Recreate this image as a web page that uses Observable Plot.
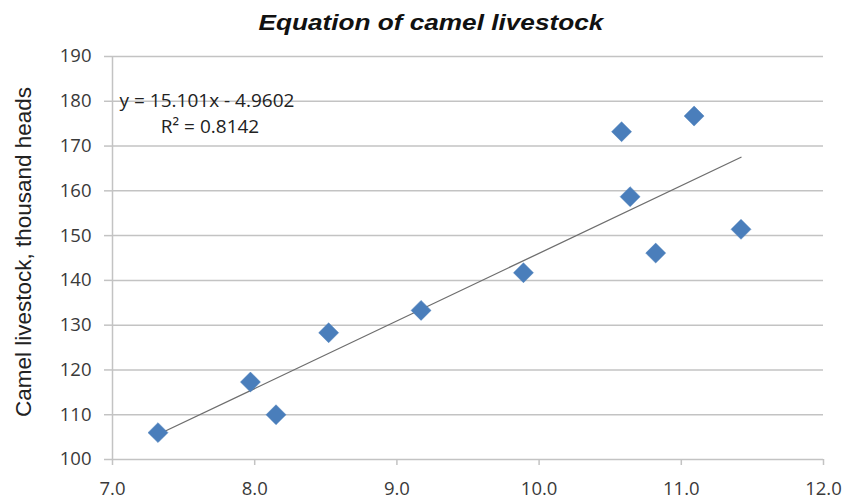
<!DOCTYPE html>
<html>
<head>
<meta charset="utf-8">
<script src="https://cdn.jsdelivr.net/npm/d3@7"></script>
<script src="https://cdn.jsdelivr.net/npm/@observablehq/plot@0.6"></script>
<style>
  html, body { margin: 0; padding: 0; background: #fff; }
  #title { height: 40px; padding-top: 12px; box-sizing: border-box; width: 846px; text-align: center; padding-left: 16px; }
  #title span { display: inline-block; font: bold italic 22px/22px "Liberation Sans", Arial, sans-serif; color: #111; transform: scaleX(1.19); transform-origin: center; }
  #chart svg { display: block; }
</style>
</head>
<body>
<div id="title"><span>Equation of camel livestock</span></div>
<div id="chart"></div>
<script>
// Data
const incomeX = [7.32, 7.97, 8.15, 8.52, 9.17, 9.89, 10.58, 10.64, 11.09, 10.82, 11.42];
const camelY  = [106.0, 117.3, 110.0, 128.3, 133.3, 141.7, 173.2, 158.7, 176.7, 146.1, 151.4];
const xTicks = [7, 8, 9, 10, 11, 12];
const yTicks = [100, 110, 120, 130, 140, 150, 160, 170, 180, 190];
const slope = 15.101;
const intercept = -4.9602;
const eqLabels = ["y = 15.101x - 4.9602", "R² = 0.8142"];
const eqX = [7.05, 7.34];
const eqY = [180.0, 174.3];
const yLabel = "Camel livestock, thousand heads";

const points = incomeX.map((x, i) => ({x, y: camelY[i]}));
const xMin = d3.min(incomeX), xMax = d3.max(incomeX);
const trend = [xMin, xMax].map(x => ({x, y: slope * x + intercept}));
const eq = eqLabels.map((t, i) => ({t, x: eqX[i], y: eqY[i]}));

const tickFont = "'Open Sans', Lato, sans-serif";
const gridColor = "#c3c3c3";
const textColor = "#3a3a3a";

const chart = Plot.plot({
  width: 846,
  height: 459,
  marginTop: 16,
  marginBottom: 40,
  marginLeft: 112,
  marginRight: 23,
  style: { fontFamily: tickFont, background: "#fff" },
  x: { domain: [7, 12], axis: null },
  y: { domain: [100, 190], axis: null },
  marks: [
    Plot.ruleY(yTicks, { stroke: gridColor, strokeWidth: 1.5 }),
    Plot.ruleX([7], { stroke: gridColor, strokeWidth: 1.5 }),
    Plot.axisY({ ticks: yTicks, tickSize: 8, tickPadding: 13, stroke: gridColor, strokeWidth: 1.5, fill: textColor, fontSize: 18.5, label: null, tickFormat: d => String(d) }),
    Plot.axisX({ ticks: xTicks, tickSize: 6, tickPadding: 16, stroke: gridColor, strokeWidth: 1.5, fill: textColor, fontSize: 18.5, label: null, tickFormat: d => d.toFixed(1) }),
    Plot.line(trend, { x: "x", y: "y", stroke: "#6e6e6e", strokeWidth: 1.3 }),
    Plot.dot(points, { x: "x", y: "y", symbol: "diamond2", r: 9, fill: "#4a7ebb", stroke: "#4a7ebb", strokeWidth: 0.5 }),
    Plot.text(eq, { x: "x", y: "y", text: "t", textAnchor: "start", fontSize: 19, fill: "#222", fontFamily: tickFont }),
    Plot.text([yLabel], { frameAnchor: "left", textAnchor: "middle", rotate: -90, dx: -89, dy: -6, fontSize: 22.5, fill: "#222", fontFamily: "'Liberation Sans', Arial, sans-serif" })
  ]
});
document.getElementById("chart").appendChild(chart);
</script>
</body>
</html>
